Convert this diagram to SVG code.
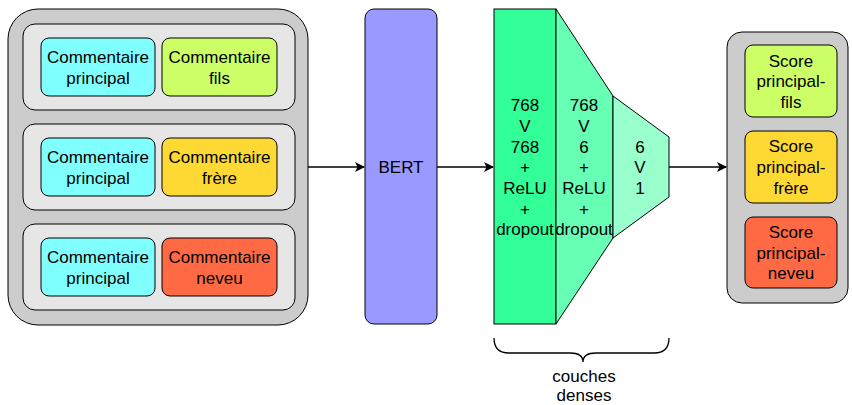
<svg xmlns="http://www.w3.org/2000/svg" width="852" height="405" viewBox="0 0 852 405">
<defs>
<style>
text{font-family:"Liberation Sans",Arial,sans-serif;font-size:17px;fill:#000;text-anchor:middle}
.b{stroke:#000;stroke-width:1}
.cont{fill:#CCCCCC}
.row{fill:#E6E6E6}
.cy{fill:#80FFFF}
.gr{fill:#CCFF66}
.ye{fill:#FFD933}
.re{fill:#FF6A45}
.ln{fill:none;stroke:#000;stroke-width:1.3}
</style>
<marker id="arr" viewBox="0 0 10 10" refX="9" refY="5" markerWidth="10" markerHeight="10" markerUnits="userSpaceOnUse" orient="auto">
<path d="M0,0 L10,5 L0,10 L2.5,5 Z" fill="#000"/>
</marker>
</defs>

<g id="input">
<rect class="b cont" x="8" y="9" width="300" height="316" rx="30"/>
<rect class="b row" x="23" y="24" width="272" height="86" rx="12"/>
<rect class="b row" x="23" y="124" width="272" height="86" rx="12"/>
<rect class="b row" x="23" y="224" width="272" height="86" rx="12"/>
</g>
<g id="c1p"><rect class="b cy" x="41" y="38" width="114" height="58" rx="8"/><text x="98" y="63">Commentaire</text><text x="98" y="84">principal</text></g>
<g id="c1f"><rect class="b gr" x="162" y="38" width="115" height="58" rx="8"/><text x="219.5" y="63">Commentaire</text><text x="219.5" y="84">fils</text></g>
<g id="c2p"><rect class="b cy" x="41" y="138" width="114" height="58" rx="8"/><text x="98" y="163">Commentaire</text><text x="98" y="184">principal</text></g>
<g id="c2f"><rect class="b ye" x="162" y="138" width="115" height="58" rx="8"/><text x="219.5" y="163">Commentaire</text><text x="219.5" y="184">frère</text></g>
<g id="c3p"><rect class="b cy" x="41" y="238" width="114" height="58" rx="8"/><text x="98" y="263">Commentaire</text><text x="98" y="284">principal</text></g>
<g id="c3f"><rect class="b re" x="162" y="238" width="115" height="58" rx="8"/><text x="219.5" y="263">Commentaire</text><text x="219.5" y="284">neveu</text></g>

<g id="bert"><rect class="b" fill="#9999FF" x="365" y="9" width="72" height="315" rx="9"/><text x="401" y="173">BERT</text></g>

<g id="dense1"><rect class="b" fill="#33FF99" x="494" y="9" width="62" height="315"/>
<text x="525" y="111">768</text><text x="525" y="132">V</text><text x="525" y="153">768</text><text x="525" y="173">+</text><text x="525" y="194">ReLU</text><text x="525" y="215">+</text><text x="525" y="235">dropout</text></g>
<g id="dense2"><path class="b" fill="#66FFB3" d="M556,9 L613,96 L613,238 L556,324 Z"/>
<text x="584" y="111">768</text><text x="584" y="132">V</text><text x="584" y="153">6</text><text x="584" y="173">+</text><text x="584" y="194">ReLU</text><text x="584" y="215">+</text><text x="584" y="235">dropout</text></g>
<g id="dense3"><path class="b" fill="#99FFCC" d="M613,96 L669,137 L669,197 L613,238 Z"/>
<text x="640" y="153">6</text><text x="640" y="173">V</text><text x="640" y="194">1</text></g>

<g id="brace"><path class="ln" stroke="#333" d="M494,338 Q494,353 509,353 L570,353 Q583,353 583,362 Q583,353 596,353 L654,353 Q669,353 669,338"/>
<text x="584" y="382">couches</text><text x="584" y="401">denses</text></g>

<g id="output">
<rect class="b cont" x="727" y="32" width="121" height="271" rx="15"/>
</g>
<g id="s1"><rect class="b gr" x="745" y="45" width="92" height="72" rx="8"/><text x="791" y="66.6">Score</text><text x="791" y="87.3">principal-</text><text x="791" y="108">fils</text></g>
<g id="s2"><rect class="b ye" x="745" y="131" width="92" height="72" rx="8"/><text x="791" y="152.3">Score</text><text x="791" y="173">principal-</text><text x="791" y="193.7">frère</text></g>
<g id="s3"><rect class="b re" x="745" y="217" width="92" height="71" rx="8"/><text x="791" y="238">Score</text><text x="791" y="258.7">principal-</text><text x="791" y="279.4">neveu</text></g>

<g id="connectors">
<line class="ln" x1="308" y1="167" x2="364" y2="167" marker-end="url(#arr)"/>
<line class="ln" x1="437" y1="167" x2="493" y2="167" marker-end="url(#arr)"/>
<line class="ln" x1="669" y1="167" x2="726" y2="167" marker-end="url(#arr)"/>
</g>
</svg>
